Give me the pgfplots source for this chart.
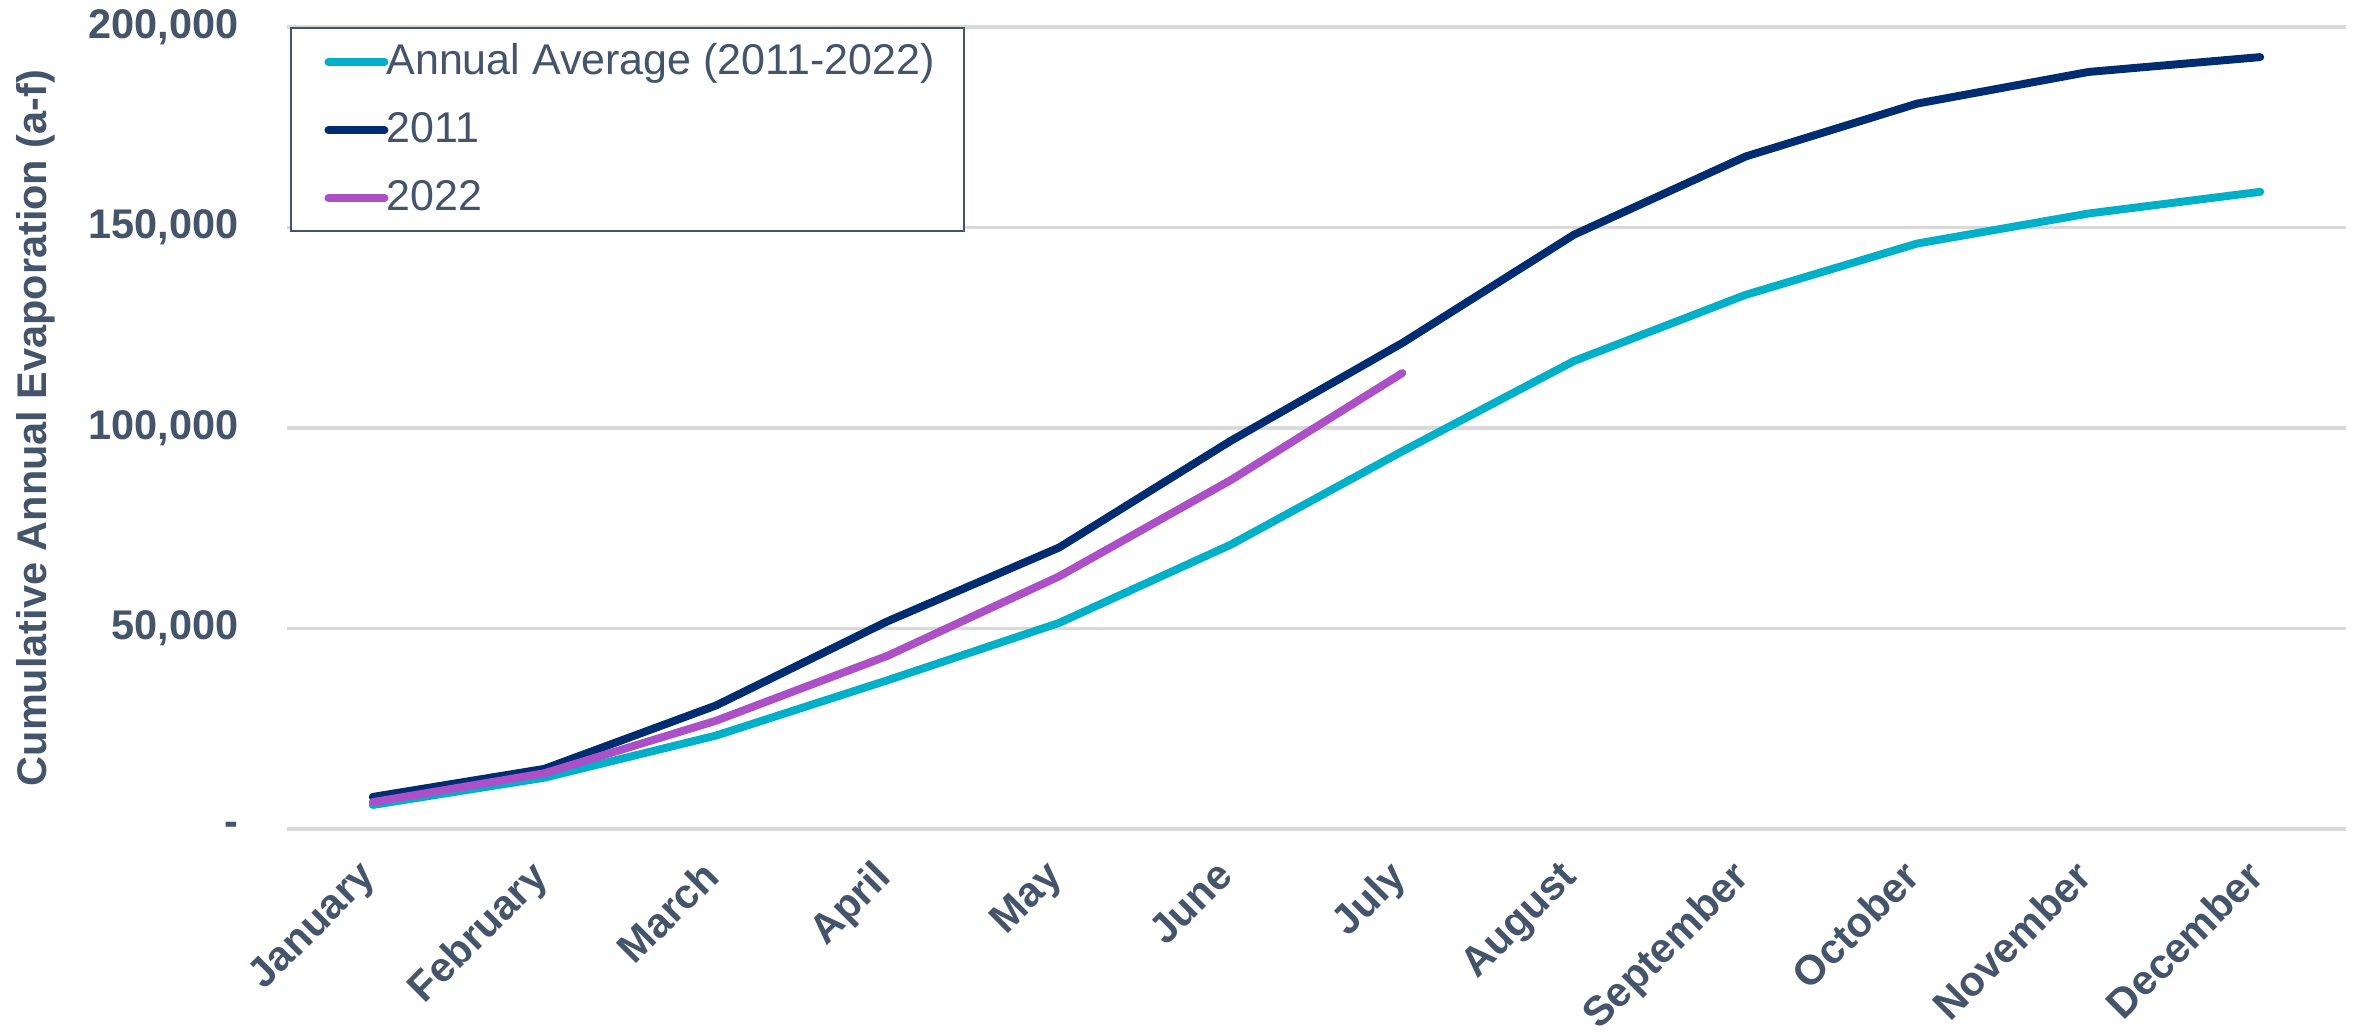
\documentclass[border=0pt]{standalone}
\usepackage{pgfplots}
\pgfplotsset{compat=1.18}
\usepackage{fontspec}
\setmainfont{Liberation Sans}
\definecolor{txt}{RGB}{68,84,106}
\definecolor{avg}{RGB}{0,176,200}
\definecolor{yrA}{RGB}{0,45,114}
\definecolor{yrB}{RGB}{172,80,200}
\definecolor{grd}{RGB}{217,217,217}
\begin{document}
\begin{tikzpicture}
\begin{axis}[
  scale only axis,
  width=20.95cm, height=8.16cm,
  xmin=-0.5, xmax=11.5,
  ymin=0, ymax=200000,
  clip=false,
  scaled y ticks=false,
  xtick={0,...,11},
  xticklabels={January,February,March,April,May,June,July,August,September,October,November,December},
  ytick={0,50000,100000,150000,200000},
  yticklabels={{-},{50,000},{100,000},{150,000},{200,000}},
  ymajorgrids,
  grid style={grd, line width=1pt},
  axis line style={draw=none},
  tick style={draw=none},
  ticklabel style={font=\fontsize{12}{14}\selectfont\bfseries, text=txt},
  yticklabel style={xshift=-0.37cm, inner ysep=0pt},
  xticklabel style={rotate=45, anchor=north east, xshift=-0.2cm, yshift=0.03cm},
  ylabel={Cumulative Annual Evaporation (a-f)},
  ylabel style={font=\fontsize{12}{14}\selectfont\bfseries, text=txt, inner sep=0pt,
    at={(axis description cs:-0.1222,0.5)}, anchor=center},
  legend style={at={(axis description cs:0.0015,1)}, anchor=north west,
    draw=txt, line width=0.6pt, fill=white,
    font=\fontsize{12.45}{14}\selectfont, text=txt,
    inner xsep=0.05cm, inner ysep=0.09cm,
    row sep=0.19cm, cells={anchor=west}},
  legend image code/.code={
    \path[draw=none, fill=none] (0cm,-0.1cm) rectangle (0.85cm,0.1cm);
    \draw[#1, line cap=round, overlay] (0.33cm,0cm) -- (0.9cm,0cm);},
  legend cell align=left,
  every axis plot/.append style={line width=2.3pt, line join=round, line cap=round},
]
\addplot[avg] coordinates {
  (0,6000) (1,12800) (2,23300) (3,37100) (4,51400) (5,70900)
  (6,94200) (7,116700) (8,133200) (9,146000) (10,153500) (11,158900)
};
\addlegendentry{Annual Average (2011-2022)\hspace*{0.18cm}}
\addplot[yrA] coordinates {
  (0,8000) (1,15000) (2,30800) (3,51800) (4,70200) (5,96800)
  (6,121200) (7,148200) (8,167700) (9,180900) (10,188800) (11,192500)
};
\addlegendentry{2011}
\addplot[yrB] coordinates {
  (0,6700) (1,13900) (2,27000) (3,43200) (4,63000) (5,87000) (6,113700)
};
\addlegendentry{2022}
\coordinate (pl) at (rel axis cs:0,0);
\coordinate (pr) at (rel axis cs:1,1);
\end{axis}
\pgfresetboundingbox
\path ([xshift=-2.92cm,yshift=-2.075cm]pl) rectangle ([xshift=0.132cm,yshift=0.275cm]pr);
\end{tikzpicture}
\end{document}
